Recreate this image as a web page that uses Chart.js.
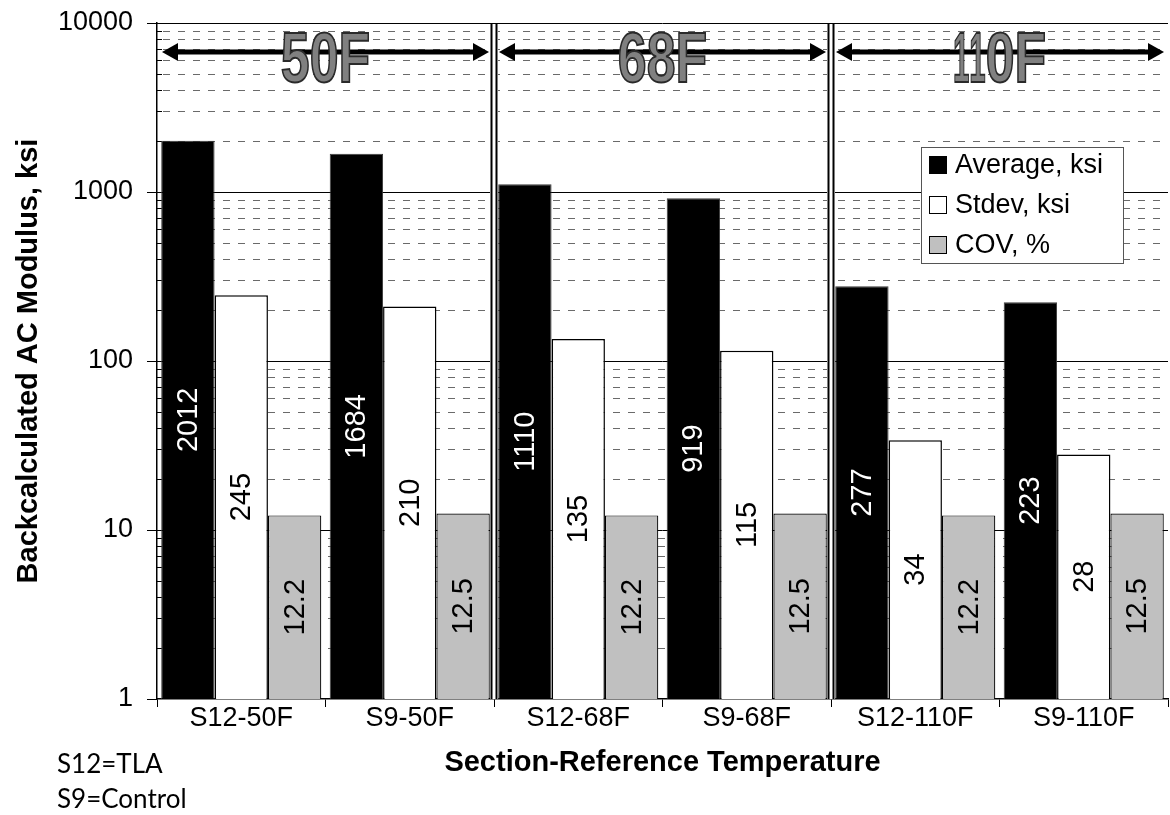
<!DOCTYPE html>
<html>
<head>
<meta charset="utf-8">
<script src="https://cdn.jsdelivr.net/npm/chart.js@4.4.1/dist/chart.umd.min.js"></script>
<style>
  html, body { margin: 0; padding: 0; background: #fff; }
  #wrap { position: relative; width: 1170px; height: 815px; }
</style>
</head>
<body>
<div id="wrap"><canvas id="chart" width="1170" height="815"></canvas></div>
<script>
// ---- data ----
const categories = ['S12-50F', 'S9-50F', 'S12-68F', 'S9-68F', 'S12-110F', 'S9-110F'];
const averageKsi = [2012, 1684, 1110, 919, 277, 223];
const stdevKsi = [245, 210, 135, 115, 34, 28];
const covPct = [12.2, 12.5, 12.2, 12.5, 12.2, 12.5];
const seriesNames = ['Average, ksi', 'Stdev, ksi', 'COV, %'];
const yTickValues = [1, 2, 3, 4, 5, 6, 7, 8, 9,
                     10, 20, 30, 40, 50, 60, 70, 80, 90,
                     100, 200, 300, 400, 500, 600, 700, 800, 900,
                     1000, 2000, 3000, 4000, 5000, 6000, 7000, 8000, 9000,
                     10000];
const temperatureGroups = ['50F', '68F', '110F'];
const footnotes = ['S12=TLA', 'S9=Control'];
const xTitle = 'Section-Reference Temperature';
const yTitle = 'Backcalculated AC Modulus, ksi';

// ---- styling ----
const FONT = '"Liberation Sans", Arial, sans-serif';
const seriesFill = ['#000000', '#ffffff', '#c0c0c0'];
const seriesBorder = ['#3a3a3a', '#000000', '#000000'];
const isPow10 = v => Math.abs(Math.log10(v) - Math.round(Math.log10(v))) < 1e-9;

// dashed minor / solid major horizontal grid, drawn under the bars
const logGrid = {
  id: 'logGrid',
  beforeDatasetsDraw(chart) {
    const { ctx, chartArea: a, scales: { y } } = chart;
    ctx.save();
    ctx.lineWidth = 1;
    yTickValues.forEach(v => {
      if (v === 1) return;
      const py = Math.round(y.getPixelForValue(v)) + 0.5;
      if (isPow10(v)) {
        ctx.setLineDash([]);
        ctx.strokeStyle = '#000';
        ctx.beginPath(); ctx.moveTo(a.left, py); ctx.lineTo(a.right, py); ctx.stroke();
      } else {
        ctx.setLineDash([7, 8]);
        ctx.strokeStyle = '#6a6a6a';
        ctx.beginPath(); ctx.moveTo(a.left + 6, py); ctx.lineTo(a.right, py); ctx.stroke();
        ctx.setLineDash([]);
        ctx.strokeStyle = '#000';
        ctx.beginPath(); ctx.moveTo(a.left, py); ctx.lineTo(a.left + 5, py); ctx.stroke();
      }
    });
    ctx.restore();
  }
};

// rotated value labels centred inside every bar
const valueLabels = {
  id: 'valueLabels',
  afterDatasetsDraw(chart) {
    const { ctx } = chart;
    chart.data.datasets.forEach((ds, i) => {
      const meta = chart.getDatasetMeta(i);
      meta.data.forEach((bar, j) => {
        const { x, y, base } = bar.getProps(['x', 'y', 'base'], true);
        ctx.save();
        ctx.translate(x, (y + base) / 2);
        ctx.rotate(-Math.PI / 2);
        ctx.font = '29px ' + FONT;
        ctx.textAlign = 'center';
        ctx.textBaseline = 'middle';
        ctx.fillStyle = i === 0 ? '#ffffff' : '#000000';
        ctx.fillText(String(ds.data[j]), 0, 1);
        ctx.restore();
      });
    });
  }
};

// temperature group separators, span arrows and big headings
const groupMarks = {
  id: 'groupMarks',
  afterDatasetsDraw(chart) {
    const { ctx, chartArea: a, scales: { x } } = chart;
    const mid = (i, j) => (x.getPixelForValue(i) + x.getPixelForValue(j)) / 2;
    const n = temperatureGroups.length;
    const edges = [];
    for (let g = 0; g < n; g++) {
      const left = g === 0 ? a.left : mid(2 * g - 1, 2 * g);
      const right = g === n - 1 ? a.right : mid(2 * g + 1, 2 * g + 2);
      edges.push([left, right]);
    }
    ctx.save();
    // double separator lines
    for (let g = 1; g < n; g++) {
      const bx = edges[g][0];
      ctx.fillStyle = '#fff';
      ctx.fillRect(bx - 4, a.top + 1, 8, a.bottom - a.top - 1);
      ctx.fillStyle = '#000';
      ctx.fillRect(bx - 3.5, a.top + 1, 2, a.bottom - a.top - 1);
      ctx.fillRect(bx + 1.5, a.top + 1, 2, a.bottom - a.top - 1);
    }
    const ay = a.top + 29;
    edges.forEach(([l, r], g) => {
      const x0 = l + 5;
      const x1 = r - (g === n - 1 ? 4 : 5);
      ctx.fillStyle = '#000';
      ctx.fillRect(x0 + 12, ay - 2.5, x1 - x0 - 24, 5);
      ctx.beginPath();
      ctx.moveTo(x0, ay); ctx.lineTo(x0 + 16, ay - 9); ctx.lineTo(x0 + 16, ay + 9); ctx.closePath(); ctx.fill();
      ctx.beginPath();
      ctx.moveTo(x1, ay); ctx.lineTo(x1 - 16, ay - 9); ctx.lineTo(x1 - 16, ay + 9); ctx.closePath(); ctx.fill();

      // condensed heading
      const text = temperatureGroups[g];
      ctx.font = 'bold 70px ' + FONT;
      const chars = text.split('');
      const scaleOf = c => (c === '1' ? 0.42 : 0.74);
      const widths = chars.map(c => ctx.measureText(c).width * scaleOf(c));
      const total = widths.reduce((s, w) => s + w, 0);
      let cx = (l + r) / 2 - total / 2;
      const baseY = a.top + 59;
      chars.forEach((c, k) => {
        ctx.save();
        ctx.translate(cx, baseY);
        ctx.scale(scaleOf(c), 1);
        ctx.textAlign = 'left';
        ctx.textBaseline = 'alphabetic';
        ctx.fillStyle = '#808080';
        ctx.fillText(c, 0, 0);
        ctx.lineWidth = 2;
        ctx.strokeStyle = '#2a2a2a';
        ctx.strokeText(c, 0, 0);
        ctx.restore();
        cx += widths[k];
      });
    });
    ctx.restore();
  }
};

// boxed legend inside the plot, plus footnotes
const boxLegend = {
  id: 'boxLegend',
  afterDraw(chart) {
    const { ctx, chartArea: a } = chart;
    const bw = 202, bh = 116;
    const bx = a.right - 247, by = 147;
    ctx.save();
    ctx.fillStyle = '#fff';
    ctx.fillRect(bx, by, bw, bh);
    ctx.strokeStyle = '#555';
    ctx.lineWidth = 1;
    ctx.strokeRect(bx + 0.5, by + 0.5, bw, bh);
    chart.data.datasets.forEach((ds, i) => {
      const cy = by + 18 + i * 40;
      ctx.fillStyle = ds.backgroundColor;
      ctx.fillRect(bx + 8, cy - 9, 18, 18);
      ctx.strokeStyle = '#000';
      ctx.lineWidth = 1;
      ctx.strokeRect(bx + 8.5, cy - 8.5, 17, 17);
      ctx.fillStyle = '#000';
      ctx.font = '27px ' + FONT;
      ctx.textAlign = 'left';
      ctx.textBaseline = 'middle';
      ctx.fillText(ds.label, bx + 34, cy + 1);
    });
    ctx.font = '26px Lato, "Open Sans", sans-serif';
    ctx.fillStyle = '#000';
    ctx.textAlign = 'left';
    ctx.textBaseline = 'middle';
    footnotes.forEach((t, i) => ctx.fillText(t, 57, 765 + i * 35));
    ctx.restore();
  }
};

new Chart(document.getElementById('chart'), {
  type: 'bar',
  data: {
    labels: categories,
    datasets: [
      { label: seriesNames[0], data: averageKsi, backgroundColor: seriesFill[0], borderColor: seriesBorder[0], borderWidth: 1 },
      { label: seriesNames[1], data: stdevKsi, backgroundColor: seriesFill[1], borderColor: seriesBorder[1], borderWidth: 1.5 },
      { label: seriesNames[2], data: covPct, backgroundColor: seriesFill[2], borderColor: seriesBorder[2], borderWidth: 1.2 }
    ]
  },
  options: {
    responsive: false,
    animation: false,
    devicePixelRatio: 1,
    layout: { padding: { top: 23, right: 2, left: 0, bottom: 0 } },
    datasets: { bar: { categoryPercentage: 0.95, barPercentage: 1, borderSkipped: 'start' } },
    plugins: { legend: { display: false }, tooltip: { enabled: false } },
    scales: {
      x: {
        grid: { offset: true, drawOnChartArea: false, drawTicks: true, tickLength: 8, color: '#000', lineWidth: 1 },
        border: { display: true, color: '#000', width: 1.5 },
        ticks: { font: { family: FONT, size: 27, lineHeight: 1 }, color: '#000', padding: -2, maxRotation: 0, autoSkip: false },
        title: { display: true, text: xTitle, color: '#000',
                 font: { family: FONT, size: 29, weight: 'bold', lineHeight: 1.2 }, padding: { top: 0, bottom: 35 } },
        afterFit(s) { s.height = 116; s.paddingLeft = 0; s.paddingRight = 0; }
      },
      y: {
        type: 'logarithmic',
        min: 1,
        max: 10000,
        afterBuildTicks(s) { s.ticks = yTickValues.map(v => ({ value: v })); },
        grid: { drawOnChartArea: false, drawTicks: true, tickLength: 10, lineWidth: 1,
                color: c => (c.tick && isPow10(c.tick.value) ? '#000' : 'rgba(0,0,0,0)') },
        border: { display: true, color: '#000', width: 1.5 },
        ticks: { font: { family: FONT, size: 27 }, color: '#000', padding: 14, autoSkip: false,
                 callback: v => (isPow10(v) ? String(v) : '') },
        title: { display: true, text: yTitle, color: '#000',
                 font: { family: FONT, size: 29, weight: 'bold', lineHeight: 1.2 }, padding: { top: 12, bottom: 0 } },
        afterFit(s) { s.width = 157; s.paddingTop = 0; s.paddingBottom = 0; }
      }
    }
  },
  plugins: [logGrid, valueLabels, groupMarks, boxLegend]
});
</script>
</body>
</html>
